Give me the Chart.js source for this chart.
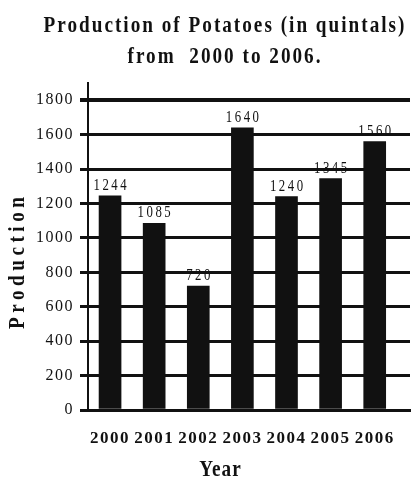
<!DOCTYPE html>
<html>
<head>
<meta charset="utf-8">
<script src="https://cdn.jsdelivr.net/npm/chart.js@4"></script>
<style>
html, body { margin: 0; padding: 0; background: #fff; }
#wrap { width: 412px; height: 484px; }
</style>
</head>
<body>
<div id="wrap"><canvas id="chart"></canvas></div>
<script>
const years = ['2000', '2001', '2002', '2003', '2004', '2005', '2006'];
const production = [1244, 1085, 720, 1640, 1240, 1345, 1560];
const yTicks = [0, 200, 400, 600, 800, 1000, 1200, 1400, 1600, 1800];
const titleLines = ['Production of Potatoes (in quintals)', 'from  2000 to 2006.'];
const xTitle = 'Year';
const yTitle = 'Production';

const FONT = '"Liberation Serif", "DejaVu Serif", serif';
const INK = '#111';

// narrow, spaced text: the original uses a condensed typeface
function condensedText(ctx, text, x, y, font, spacing, sx, angle) {
    ctx.save();
    ctx.translate(x, y);
    if (angle) ctx.rotate(angle);
    ctx.scale(sx, 1);
    ctx.font = font;
    ctx.letterSpacing = (spacing / sx) + 'px';
    ctx.fillText(text, spacing / sx / 2, 0);
    ctx.restore();
}

const spacedText = {
    id: 'spacedText',
    beforeDraw(chart) {
        chart.ctx.letterSpacing = '1.5px';
    },
    afterDatasetsDraw(chart) {
        const ctx = chart.ctx;
        const meta = chart.getDatasetMeta(0);
        ctx.save();
        ctx.fillStyle = INK;
        ctx.textAlign = 'center';
        ctx.textBaseline = 'bottom';
        meta.data.forEach((bar, i) => {
            condensedText(ctx, String(production[i]), bar.x, bar.y - 2, '16px ' + FONT, 2.5, 0.8);
        });
        ctx.restore();
    },
    afterDraw(chart) {
        const ctx = chart.ctx;
        ctx.save();
        ctx.fillStyle = INK;
        ctx.textAlign = 'center';
        ctx.textBaseline = 'alphabetic';
        titleLines.forEach((t, i) => {
            condensedText(ctx, t, 224, 32 + i * 31, 'bold 24px ' + FONT, 2, 0.8);
        });
        condensedText(ctx, xTitle, 220, 476, 'bold 24px ' + FONT, 1, 0.8);
        condensedText(ctx, yTitle, 24, 263, 'bold 24px ' + FONT, 4.5, 0.8, -Math.PI / 2);
        ctx.restore();
    }
};

new Chart(document.getElementById('chart'), {
    type: 'bar',
    data: {
        datasets: [{
            data: production.map((v, i) => ({x: i, y: v})),
            backgroundColor: INK,
            barThickness: 22
        }]
    },
    options: {
        responsive: true,
        maintainAspectRatio: false,
        animation: false,
        layout: {
            padding: {top: 83, right: 2, left: 0, bottom: 0}
        },
        plugins: {
            legend: {display: false},
            tooltip: {enabled: false}
        },
        scales: {
            x: {
                type: 'linear',
                offset: false,
                min: -0.5,
                max: 6.8,
                afterBuildTicks: s => { s.ticks = years.map((y, i) => ({value: i})); },
                afterFit: s => { s.height = 74; },
                ticks: {
                    callback: v => years[v],
                    font: {family: FONT, size: 17, weight: 'bold'},
                    color: INK,
                    padding: 10,
                    maxRotation: 0,
                    autoSkip: false
                },
                grid: {display: false},
                border: {display: true, color: INK, width: 3}
            },
            y: {
                min: 0,
                max: 1900,
                afterBuildTicks: s => { s.ticks = yTicks.map(v => ({value: v})); },
                afterFit: s => { s.width = 88; },
                ticks: {
                    callback: v => String(v),
                    font: {family: FONT, size: 16},
                    color: INK,
                    padding: 6
                },
                grid: {
                    color: INK,
                    lineWidth: c => (c.tick && c.tick.value === 1800) ? 4 : 3,
                    tickLength: 8
                },
                border: {color: INK, width: 2}
            }
        }
    },
    plugins: [spacedText]
});
</script>
</body>
</html>
